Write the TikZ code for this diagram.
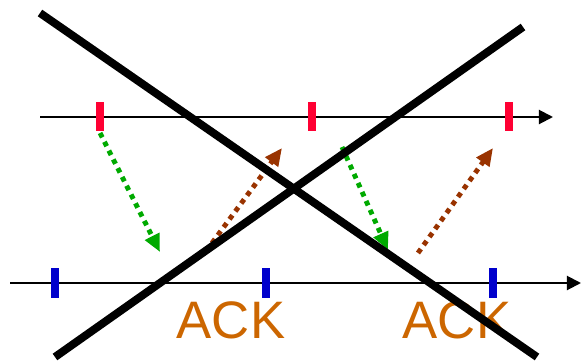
\documentclass[tikz,border=0pt]{standalone}
\usepackage{fontspec}
\setmainfont{Liberation Sans}
\usepackage{xcolor}
\usetikzlibrary{arrows.meta, positioning}

\definecolor{sendred}{HTML}{FF0033}
\definecolor{recvblue}{HTML}{0000CC}
\definecolor{datagreen}{HTML}{00AA00}
\definecolor{ackbrown}{HTML}{993300}
\definecolor{ackorange}{HTML}{CC6600}

\begin{document}
\begin{tikzpicture}[
  x=0.03cm,
  y=-0.03cm,
  timeline/.style={
    -{Triangle[length=12pt,width=12pt]},
    line width=1.7pt,
    draw=black
  },
  sendtick/.style={
    line width=6pt,
    draw=sendred
  },
  recvtick/.style={
    line width=6pt,
    draw=recvblue
  },
  datamsg/.style={
    -{Triangle[length=15pt,width=13pt]},
    line width=4.2pt,
    dash pattern=on 4.2pt off 4.2pt,
    draw=datagreen
  },
  ackmsg/.style={
    -{Triangle[length=15pt,width=13pt]},
    line width=4.2pt,
    dash pattern=on 4.2pt off 4.2pt,
    draw=ackbrown
  },
  acklabel/.style={
    text=ackorange,
    font=\fontsize{45}{45}\selectfont,
    inner sep=0pt
  },
  crossline/.style={
    line width=6.8pt,
    draw=black
  }
]

\useasboundingbox (0,0) rectangle (581,362);

% time lines
\coordinate (sstart) at (40,117);
\coordinate (send) at (553,117);
\coordinate (rstart) at (10,283);
\coordinate (rend) at (581,283);
\draw[timeline] (sstart) -- (send);
\draw[timeline] (rstart) -- (rend);

% ticks
\foreach \x [count=\i] in {100,312,509} {
  \coordinate (s\i) at (\x,117);
  \draw[sendtick] ([yshift=15*0.03cm]s\i) -- ([yshift=-14*0.03cm]s\i);
}
\foreach \x [count=\i] in {55,266,493} {
  \coordinate (r\i) at (\x,283);
  \draw[recvtick] ([yshift=15*0.03cm]r\i) -- ([yshift=-15*0.03cm]r\i);
}

% messages
\coordinate (d1a) at (100,133);
\coordinate (d1b) at (160,252);
\coordinate (a1a) at (212,243);
\coordinate (a1b) at (282,148);
\coordinate (d2a) at (342,147);
\coordinate (d2b) at (388,250);
\coordinate (a2a) at (418,253);
\coordinate (a2b) at (493,148);
\draw[datamsg] (d1a) -- (d1b);
\draw[ackmsg] (a1a) -- (a1b);
\draw[datamsg] (d2a) -- (d2b);
\draw[ackmsg] (a2a) -- (a2b);

\node[acklabel] (ack1) at (231,320) {ACK};
\node[acklabel] (ack2) at (457,320) {ACK};

% crossed out
\coordinate (xa) at (40,13);
\coordinate (xb) at (537,357);
\coordinate (xc) at (55,357);
\coordinate (xd) at (523,27);
\draw[crossline] (xa) -- (xb);
\draw[crossline] (xc) -- (xd);

\end{tikzpicture}
\end{document}
